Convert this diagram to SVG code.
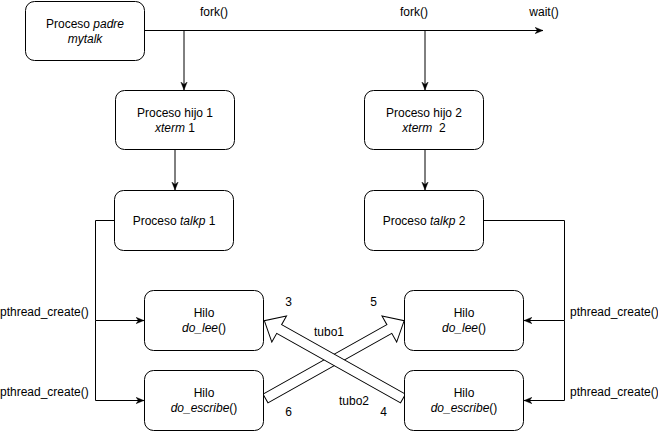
<svg xmlns="http://www.w3.org/2000/svg" width="658" height="431" viewBox="0 0 658 431">
<style>
.node{fill:#fff;stroke:#000;stroke-width:1}
.t{font-family:"Liberation Sans",Arial,sans-serif;font-size:12px;fill:#000;white-space:pre}
.c{text-anchor:middle}
.i{font-style:italic}
.e{fill:none;stroke:#000;stroke-width:1}
.fa{fill:#fff;stroke:#000;stroke-width:1;stroke-linejoin:miter}
</style>
<defs>
<marker id="arr" viewBox="0 0 10 10" refX="10" refY="5" markerWidth="8" markerHeight="8" markerUnits="userSpaceOnUse" orient="auto">
<path d="M0,1 L10,5 L0,9 L3,5 z" fill="#000" stroke="#000" stroke-width="0.5"/>
</marker>
</defs>
<rect width="658" height="431" fill="#fff"/>
<g id="connectors">
<path class="e" d="M145,30.5 H543" marker-end="url(#arr)"/>
<path class="e" d="M184,30.5 V90" marker-end="url(#arr)"/>
<path class="e" d="M425,30.5 V90" marker-end="url(#arr)"/>
<path class="e" d="M175,150 V190" marker-end="url(#arr)"/>
<path class="e" d="M425,150 V190" marker-end="url(#arr)"/>
<path class="e" d="M114,220.5 H95.5 V320.5 H144" marker-end="url(#arr)"/>
<path class="e" d="M95.5,320.5 V400.5 H144" marker-end="url(#arr)"/>
<path class="e" d="M484,220.5 H564.5 V320.5 H524" marker-end="url(#arr)"/>
<path class="e" d="M564.5,320.5 V400.5 H524" marker-end="url(#arr)"/>
<g transform="translate(265.5,398.5) rotate(-29.3)">
<polygon class="fa" points="0,-5 142,-5 142,-15 159,0 142,15 142,5 0,5"/>
</g>
<g transform="translate(403,398.5) rotate(-150.7)">
<polygon class="fa" points="0,-5 142,-5 142,-15 159,0 142,15 142,5 0,5"/>
</g>
<text class="t c" x="214" y="16">fork()</text>
<text class="t c" x="414" y="16">fork()</text>
<text class="t c" x="544" y="16">wait()</text>
<text class="t" x="0" y="315.5">pthread_create()</text>
<text class="t" x="0" y="395.5">pthread_create()</text>
<text class="t" x="570" y="315.5">pthread_create()</text>
<text class="t" x="570" y="395.5">pthread_create()</text>
<text class="t c" x="288.5" y="306">3</text>
<text class="t c" x="373.5" y="306">5</text>
<text class="t c" x="329" y="336">tubo1</text>
<text class="t c" x="354" y="404.5">tubo2</text>
<text class="t c" x="288.5" y="416">6</text>
<text class="t c" x="383.5" y="416">4</text>
</g>
<g id="padre">
<rect class="node" x="25.5" y="1.5" width="119" height="59" rx="9"/>
<text class="t c" x="85" y="28">Proceso <tspan class="i">padre</tspan></text>
<text class="t c i" x="85" y="42.5">mytalk</text>
</g>
<g id="hijo1">
<rect class="node" x="115.5" y="90.5" width="119" height="59" rx="9"/>
<text class="t c" x="175" y="117">Proceso hijo 1</text>
<text class="t c" x="175" y="131.5"><tspan class="i">xterm</tspan> 1</text>
</g>
<g id="hijo2">
<rect class="node" x="364.5" y="90.5" width="119" height="59" rx="9"/>
<text class="t c" x="424" y="117">Proceso hijo 2</text>
<text class="t c" x="424" y="131.5"><tspan class="i">xterm</tspan>  2</text>
</g>
<g id="talkp1">
<rect class="node" x="114.5" y="190.5" width="119" height="60" rx="9"/>
<text class="t c" x="174" y="224.5">Proceso <tspan class="i">talkp</tspan> 1</text>
</g>
<g id="talkp2">
<rect class="node" x="364.5" y="190.5" width="119" height="60" rx="9"/>
<text class="t c" x="424" y="224.5">Proceso <tspan class="i">talkp</tspan> 2</text>
</g>
<g id="lee1">
<rect class="node" x="144.5" y="290.5" width="119" height="60" rx="9"/>
<text class="t c" x="204" y="317">Hilo</text>
<text class="t c" x="204" y="331.5"><tspan class="i">do_lee</tspan>()</text>
</g>
<g id="escribe1">
<rect class="node" x="144.5" y="370.5" width="119" height="60" rx="9"/>
<text class="t c" x="204" y="397">Hilo</text>
<text class="t c" x="204" y="411.5"><tspan class="i">do_escribe</tspan>()</text>
</g>
<g id="lee2">
<rect class="node" x="404.5" y="290.5" width="119" height="60" rx="9"/>
<text class="t c" x="464" y="317">Hilo</text>
<text class="t c" x="464" y="331.5"><tspan class="i">do_lee</tspan>()</text>
</g>
<g id="escribe2">
<rect class="node" x="404.5" y="370.5" width="119" height="60" rx="9"/>
<text class="t c" x="464" y="397">Hilo</text>
<text class="t c" x="464" y="411.5"><tspan class="i">do_escribe</tspan>()</text>
</g>
</svg>
